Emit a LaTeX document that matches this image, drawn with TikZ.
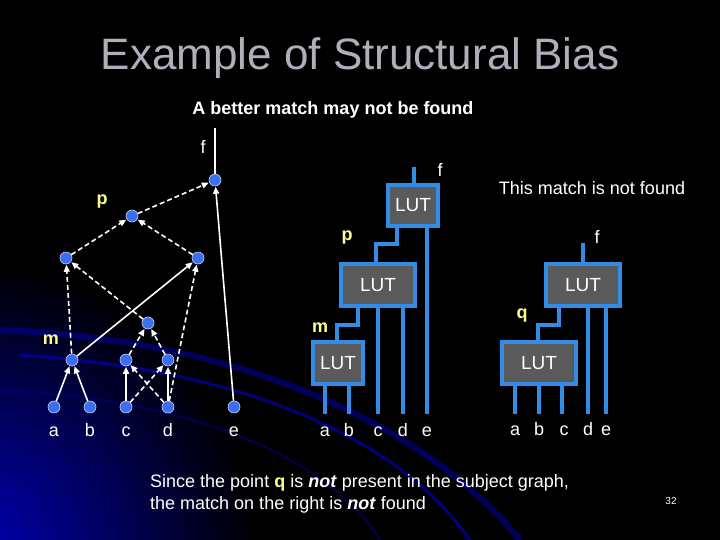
\documentclass[tikz,border=0pt]{standalone}
\usepackage{fontspec}
\setmainfont{Liberation Sans}
\usetikzlibrary{arrows.meta}
\definecolor{nodeblue}{RGB}{60,110,240}
\definecolor{lutblue}{RGB}{50,140,230}
\definecolor{lutgray}{RGB}{90,90,90}
\definecolor{lab}{RGB}{255,255,140}
\definecolor{titlegray}{RGB}{175,175,185}
\tikzset{
  dot/.style={circle,fill=nodeblue,draw=white!70!nodeblue,line width=0.6pt,inner sep=0pt,minimum size=12pt},
  sarr/.style={draw=white,line width=1.6pt,-{Triangle[length=7pt,width=6pt]},shorten >=0.5pt},
  darr/.style={sarr,dash pattern=on 5pt off 3pt},
  lut/.style={draw=lutblue,fill=lutgray,line width=3.5pt,text=white,font=\fontsize{19}{22}\selectfont},
  wire/.style={draw=lutblue,line width=3.5pt},
  txt/.style={text=white,font=\fontsize{18}{21}\selectfont,inner sep=0pt},
  letter/.style={txt,text height=13pt,text depth=0pt},
  ylab/.style={text=lab,font=\bfseries\fontsize{18}{21}\selectfont,inner sep=0pt}
}
\begin{document}
\begin{tikzpicture}[x=1pt,y=-1pt]
\useasboundingbox (0,0) rectangle (720,540);
\fill[black] (0,0) rectangle (720,540);
\begin{scope}
\clip (0,0) rectangle (720,540);
\shade[inner color={rgb,255:red,0;green,0;blue,190},outer color=black] (-40,560) circle (300);
\draw[blue!60!black,line width=6pt,opacity=0.6] (0,330) .. controls (250,340) and (430,430) .. (520,540);
\draw[blue!70!black,line width=3pt,opacity=0.7] (20,355) .. controls (250,370) and (400,440) .. (470,540);
\draw[blue!50!black,line width=2pt,opacity=0.6] (0,390) .. controls (200,400) and (330,460) .. (380,540);
\end{scope}
% title
\node[text=titlegray,font=\fontsize{44}{50}\selectfont] (title) at (360,58) {Example of Structural Bias};
\node[txt,font=\bfseries\fontsize{18}{21}\selectfont] (t1) at (333,110) {A better match may not be found};
\node[txt] (t2) at (592,188) {This match is not found};
% left graph
\node[dot] (F) at (215,180) {};
\node[dot] (P) at (132,216) {};
\node[dot] (L) at (66,258) {};
\node[dot] (R) at (198,258) {};
\node[dot] (C) at (148,323) {};
\node[dot] (M) at (72,360) {};
\node[dot] (CU) at (126,360) {};
\node[dot] (DU) at (168,360) {};
\node[dot] (A) at (54,407) {};
\node[dot] (B) at (90,407) {};
\node[dot] (Cc) at (126,407) {};
\node[dot] (D) at (168,407) {};
\node[dot] (E) at (234,407) {};
\coordinate (Ftop) at (215,128);
\node[txt] at (203,147) {f};
\node[ylab] at (102,202) {p};
\node[ylab] at (51,340) {m};
\foreach \n/\l in {A/a,B/b,Cc/c,D/d,E/e} \node[letter] at ([yshift=-23pt]\n) {\l};
\draw[white,line width=1.6pt] (F) -- (Ftop);
\path[sarr] (A) -- (M);
\path[sarr] (B) -- (M);
\path[sarr] (M) -- (R);
\path[darr] (M) -- (L);
\path[darr] (C) -- (L);
\path[sarr] (Cc) -- (CU);
\path[darr] (Cc) -- (DU);
\path[darr] (D) -- (CU);
\path[sarr] (D) -- (DU);
\path[darr] (D) -- (R);
\path[darr] (CU) -- (C);
\path[darr] (DU) -- (C);
\path[darr] (L) -- (P);
\path[darr] (R) -- (P);
\path[darr] (P) -- (F);
\path[sarr] (E) -- (F);
% middle LUT structure
\node[lut,minimum width=50pt,minimum height=41pt] (T1) at (413,205.5) {LUT};
\node[lut,minimum width=74pt,minimum height=42pt] (T2) at (378,285) {LUT};
\node[lut,minimum width=50pt,minimum height=42pt] (T3) at (338,363) {LUT};
\draw[wire] (414,167) -- (T1.north -| 414,0);
\draw[wire] (T1.south -| 397,0) |- (376,244) -- (T2.north -| 376,0);
\draw[wire] (T1.south -| 427,0) -- (427,414);
\draw[wire] (T2.south -| 378,0) -- (378,414);
\draw[wire] (T2.south -| 403,0) -- (403,414);
\draw[wire] (T2.south -| 358,0) |- (337,325) -- (T3.north -| 337,0);
\draw[wire] (T3.south -| 325,0) -- (325,414);
\draw[wire] (T3.south -| 349,0) -- (349,414);
\node[txt] at (440,170) {f};
\node[ylab] at (347,238) {p};
\node[ylab] at (320,328) {m};
\foreach \x/\l in {325/a,349/b,378/c,403/d,427/e} \node[letter] at (\x,430) {\l};
% right LUT structure
\node[lut,minimum width=74pt,minimum height=42pt] (U1) at (583,285) {LUT};
\node[lut,minimum width=74pt,minimum height=42pt] (U2) at (539,363) {LUT};
\draw[wire] (583,243) -- (U1.north);
\draw[wire] (U1.south -| 588,0) -- (588,414);
\draw[wire] (U1.south -| 606,0) -- (606,414);
\draw[wire] (U1.south -| 559,0) |- (538,325) -- (U2.north -| 538,0);
\draw[wire] (U2.south -| 515,0) -- (515,414);
\draw[wire] (U2.south -| 539,0) -- (539,414);
\draw[wire] (U2.south -| 562,0) -- (562,414);
\node[txt] at (597,237) {f};
\node[ylab] at (522,316) {q};
\foreach \x/\l in {515/a,539/b,564/c,588/d,606/e} \node[letter] at (\x,429) {\l};
% bottom text
\node[txt,anchor=west,align=left,font=\fontsize{18}{22}\selectfont] (t3) at (150,494) {Since the point {\color{lab}\bfseries q} is \textbf{\textit{not}} present in the subject graph,\\the match on the right is \textbf{\textit{not}} found};
\node[txt,font=\fontsize{10}{12}\selectfont] (pg) at (671,501) {32};
\end{tikzpicture}
\end{document}
